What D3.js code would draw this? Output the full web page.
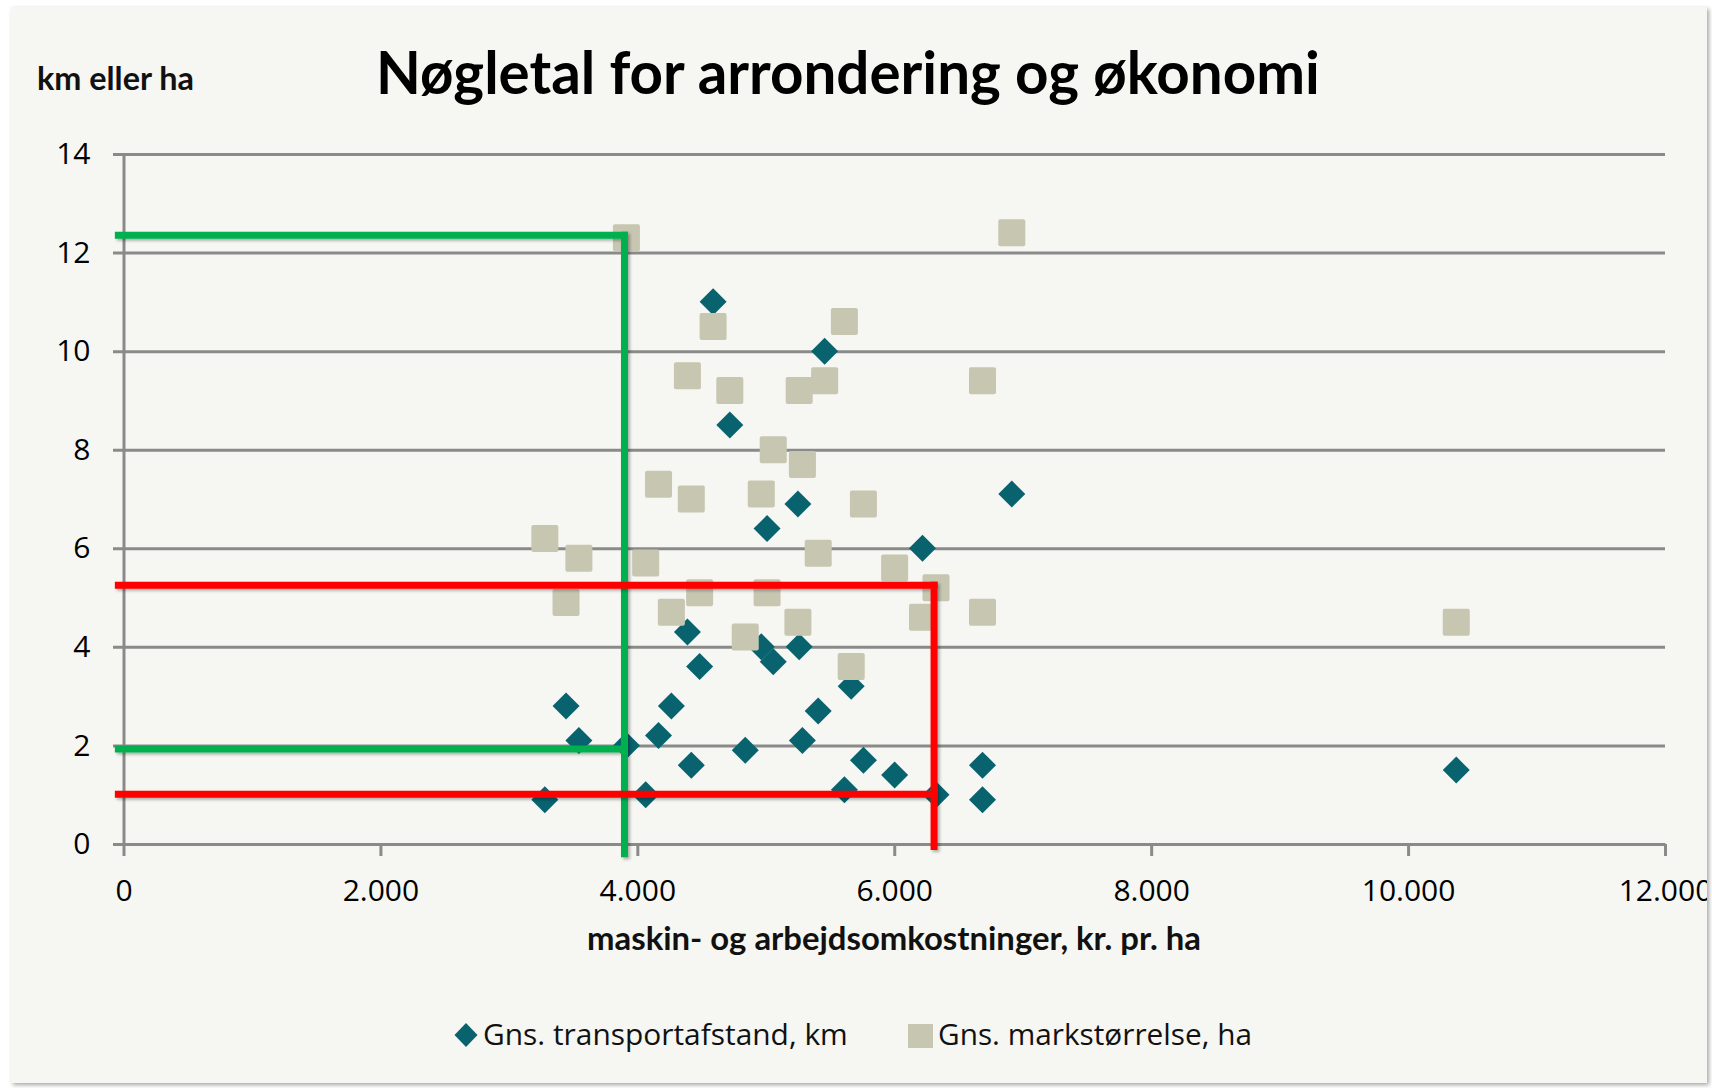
<!DOCTYPE html>
<html>
<head>
<meta charset="utf-8">
<script src="https://cdn.jsdelivr.net/npm/d3@7"></script>
<style>
  html, body { margin: 0; padding: 0; background: #ffffff; }
  svg { display: block; }
</style>
</head>
<body>
<div id="chart"></div>
<script>
// ---------- DATA ----------
const chartTitle = "Nøgletal for arrondering og økonomi";
const yAxisTitle = "km eller ha";
const xAxisTitle = "maskin- og arbejdsomkostninger, kr. pr. ha";
const seriesNames = ["Gns. transportafstand, km", "Gns. markstørrelse, ha"];

// machine & labour costs, kr. per ha (one value per farm)
const costs = [3280, 3445, 3545, 3915, 4065, 4165, 4265, 4390, 4420, 4485, 4590, 4720, 4840, 4965, 5010, 5058,
               5250, 5260, 5285, 5408, 5458, 5612, 5665, 5760, 6003, 6220, 6325, 6687, 6687, 6915, 10375];
// average transport distance, km
const transport = [0.9, 2.8, 2.1, 2.0, 1.0, 2.2, 2.8, 4.3, 1.6, 3.6, 11.0, 8.5, 1.9, 4.0, 6.4, 3.7,
                   6.9, 4.0, 2.1, 2.7, 10.0, 1.1, 3.2, 1.7, 1.4, 6.0, 1.0, 1.6, 0.9, 7.1, 1.5];
// average field size, ha
const fieldSize = [6.2, 4.9, 5.8, 12.3, 5.7, 7.3, 4.7, 9.5, 7.0, 5.1, 10.5, 9.2, 4.2, 7.1, 5.1, 8.0,
                   4.5, 9.2, 7.7, 5.9, 9.4, 10.6, 3.6, 6.9, 5.6, 4.6, 5.2, 9.4, 4.7, 12.4, 4.5];

const xTicks = [0, 2000, 4000, 6000, 8000, 10000, 12000];
const yTicks = [0, 2, 4, 6, 8, 10, 12, 14];

// annotation guide lines: [x1, y1, x2, y2] in data units
const greenLines = [[-40, 12.35, 3900, 12.35], [3900, 12.35, 3900, -0.2], [-40, 1.93, 3900, 1.93]];
const redLines   = [[-40, 5.25, 6310, 5.25], [6310, 5.25, 6310, -0.05], [-40, 1.01, 6310, 1.01]];

// ---------- LAYOUT ----------
const W = 1712, H = 1088;
const x = d3.scaleLinear().domain([0, 12000]).range([123.5, 1665]);
const y = d3.scaleLinear().domain([0, 14]).range([844, 154]);

const svg = d3.select("#chart").append("svg").attr("width", W).attr("height", H);
const defs = svg.append("defs");
const sh = defs.append("filter").attr("id", "shadow").attr("x", "-10%").attr("y", "-10%").attr("width", "130%").attr("height", "130%");
sh.append("feDropShadow").attr("dx", 2).attr("dy", 2).attr("stdDeviation", 1.5).attr("flood-color", "#000").attr("flood-opacity", 0.3);
const cardSh = defs.append("filter").attr("id", "cardshadow").attr("x", "-2%").attr("y", "-2%").attr("width", "104%").attr("height", "104%");
cardSh.append("feDropShadow").attr("dx", 2).attr("dy", 2).attr("stdDeviation", 2).attr("flood-color", "#000").attr("flood-opacity", 0.35);
defs.append("clipPath").attr("id", "cardclip").append("rect").attr("x", 11).attr("y", 7).attr("width", 1696).attr("height", 1076);

svg.append("rect").attr("x", 11).attr("y", 7).attr("width", 1696).attr("height", 1076)
  .attr("fill", "#f6f6f2").attr("filter", "url(#cardshadow)");

const g = svg.append("g").attr("clip-path", "url(#cardclip)");

const gridColor = "#8a8a8a";

// gridlines (extend left to form the y ticks)
const grid = g.append("g").attr("transform", `translate(113,0)`)
  .call(d3.axisRight(y).tickValues(yTicks).tickSize(x(12000) - 113).tickFormat(""));
grid.select(".domain").remove();
grid.selectAll(".tick line").attr("stroke", gridColor).attr("stroke-width", 3);

// y axis labels + axis line
const yAx = g.append("g").attr("transform", `translate(${x(0)},0)`)
  .call(d3.axisLeft(y).tickValues(yTicks).tickSize(0).tickPadding(33).tickFormat(d3.format("d")));
yAx.select(".domain").attr("stroke", gridColor).attr("stroke-width", 3);
yAx.selectAll("text").attr("font-family", "Open Sans").attr("font-size", 30).attr("fill", "#000");

// x axis
const xAx = g.append("g").attr("transform", `translate(0,${y(0)})`)
  .call(d3.axisBottom(x).tickValues(xTicks).tickSize(12).tickSizeOuter(0).tickPadding(24)
    .tickFormat(d => d3.format(",")(d).replace(/,/g, ".")));
xAx.select(".domain").attr("stroke", gridColor).attr("stroke-width", 3);
xAx.selectAll(".tick line").attr("stroke", gridColor).attr("stroke-width", 3);
xAx.selectAll("text").attr("font-family", "Open Sans").attr("font-size", 30).attr("fill", "#000");

// series 1: diamonds
const dHalf = 13.5;
g.append("g").selectAll("path").data(costs.map((c, i) => [c, transport[i]])).join("path")
  .attr("d", d => { const cx = x(d[0]), cy = y(d[1]);
    return `M${cx},${cy - dHalf}L${cx + dHalf},${cy}L${cx},${cy + dHalf}L${cx - dHalf},${cy}Z`; })
  .attr("fill", "#08636f");

// series 2: squares
const sq = 27;
g.append("g").selectAll("rect").data(costs.map((c, i) => [c, fieldSize[i]])).join("rect")
  .attr("x", d => x(d[0]) - sq / 2).attr("y", d => y(d[1]) - sq / 2)
  .attr("width", sq).attr("height", sq).attr("rx", 2)
  .attr("fill", "#c7c6b1");

// guide lines
function drawGuides(lines, color) {
  const gg = g.append("g").attr("filter", "url(#shadow)");
  gg.selectAll("line").data(lines).join("line")
    .attr("x1", d => x(d[0])).attr("y1", d => y(d[1]))
    .attr("x2", d => x(d[2])).attr("y2", d => y(d[3]))
    .attr("stroke", color).attr("stroke-width", 7).attr("stroke-linecap", "square");
}
drawGuides(greenLines, "#00b050");
drawGuides(redLines, "#ff0000");

// texts
function fit(sel, target) {
  const w = sel.node().getComputedTextLength();
  const fs = parseFloat(sel.attr("font-size"));
  sel.attr("font-size", fs * target / w);
  return sel;
}
const title = g.append("text").text(chartTitle).attr("x", 848).attr("y", 94)
  .attr("text-anchor", "middle").attr("font-family", "Lato").attr("font-weight", "bold")
  .attr("font-size", 56).attr("fill", "#000");
fit(title, 944);

const yt = g.append("text").text(yAxisTitle).attr("x", 37).attr("y", 90)
  .attr("font-family", "Lato").attr("font-weight", "bold").attr("font-size", 28).attr("fill", "#111");
fit(yt, 157);

const xt = g.append("text").text(xAxisTitle).attr("x", 894).attr("y", 950)
  .attr("text-anchor", "middle").attr("font-family", "Lato").attr("font-weight", "bold")
  .attr("font-size", 28).attr("fill", "#111");
fit(xt, 614);

// legend
const leg = g.append("g");
const lx = 466, ly = 1035, lh = 12;
leg.append("path").attr("d", `M${lx},${ly - lh}L${lx + 11.5},${ly}L${lx},${ly + lh}L${lx - 11.5},${ly}Z`).attr("fill", "#08636f");
fit(leg.append("text").text(seriesNames[0]).attr("x", 483).attr("y", 1045)
  .attr("font-family", "Open Sans").attr("font-size", 29).attr("fill", "#111"), 365);
leg.append("rect").attr("x", 908).attr("y", 1024).attr("width", 25).attr("height", 24).attr("fill", "#c7c6b1");
fit(leg.append("text").text(seriesNames[1]).attr("x", 938).attr("y", 1045)
  .attr("font-family", "Open Sans").attr("font-size", 29).attr("fill", "#111"), 314);
</script>
</body>
</html>
